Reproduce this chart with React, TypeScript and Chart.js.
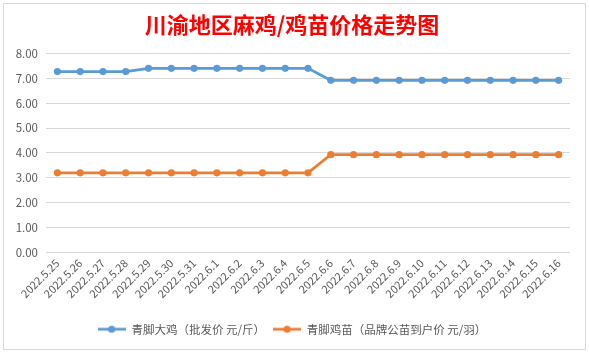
import React, { useEffect, useRef } from "react";
import { Chart, registerables } from "chart.js";

Chart.register(...registerables);

const TITLE = "川渝地区麻鸡/鸡苗价格走势图";
const categories = [
  "2022.5.25", "2022.5.26", "2022.5.27", "2022.5.28", "2022.5.29", "2022.5.30", "2022.5.31",
  "2022.6.1", "2022.6.2", "2022.6.3", "2022.6.4", "2022.6.5", "2022.6.6", "2022.6.7",
  "2022.6.8", "2022.6.9", "2022.6.10", "2022.6.11", "2022.6.12", "2022.6.13", "2022.6.14",
  "2022.6.15", "2022.6.16",
];
const seriesNames = ["青脚大鸡（批发价 元/斤）", "青脚鸡苗（品牌公苗到户价 元/羽）"];
const broilerPrice = [
  7.27, 7.27, 7.27, 7.27, 7.4, 7.4, 7.4, 7.4, 7.4, 7.4, 7.4, 7.4,
  6.92, 6.92, 6.92, 6.92, 6.92, 6.92, 6.92, 6.92, 6.92, 6.92, 6.92,
];
const chickPrice = [
  3.2, 3.2, 3.2, 3.2, 3.2, 3.2, 3.2, 3.2, 3.2, 3.2, 3.2, 3.2,
  3.93, 3.93, 3.93, 3.93, 3.93, 3.93, 3.93, 3.93, 3.93, 3.93, 3.93,
];
const yMin = 0;
const yMax = 8;
const yStep = 1;

const BLUE = "#5B9BD5";
const ORANGE = "#ED7D31";
const TEXT = "#595959";
const FONT = "'Noto Sans CJK SC', 'Noto Sans', sans-serif";

function legendIcon(color: string): HTMLCanvasElement {
  const c = document.createElement("canvas");
  c.width = 28;
  c.height = 10;
  const g = c.getContext("2d")!;
  g.strokeStyle = color;
  g.lineWidth = 2.75;
  g.beginPath();
  g.moveTo(0, 5);
  g.lineTo(28, 5);
  g.stroke();
  g.fillStyle = color;
  g.beginPath();
  g.arc(14, 5, 3.6, 0, Math.PI * 2);
  g.fill();
  return c;
}

const borderPlugin = {
  id: "frame",
  beforeDraw(chart: any) {
    const ctx = chart.ctx;
    ctx.save();
    ctx.fillStyle = "#ffffff";
    ctx.fillRect(0, 0, chart.width, chart.height);
    ctx.strokeStyle = "#d9d9d9";
    ctx.lineWidth = 1;
    ctx.strokeRect(3.5, 3.5, chart.width - 7, chart.height - 6);
    ctx.restore();
  },
};

export default function App() {
  const ref = useRef<HTMLCanvasElement>(null);
  useEffect(() => {
    const icons = [legendIcon(BLUE), legendIcon(ORANGE)];
    const chart = new Chart(ref.current!, {
      type: "line",
      data: {
        labels: categories,
        datasets: [
          {
            label: seriesNames[0],
            data: broilerPrice,
            borderColor: BLUE,
            backgroundColor: BLUE,
            borderWidth: 2.75,
            pointRadius: 3.6,
            pointBorderWidth: 0,
            pointBackgroundColor: BLUE,
            tension: 0,
          },
          {
            label: seriesNames[1],
            data: chickPrice,
            borderColor: ORANGE,
            backgroundColor: ORANGE,
            borderWidth: 2.75,
            pointRadius: 3.6,
            pointBorderWidth: 0,
            pointBackgroundColor: ORANGE,
            tension: 0,
          },
        ],
      },
      options: {
        responsive: false,
        animation: false,
        layout: { padding: { left: 14, right: 19, top: 0, bottom: 7 } },
        plugins: {
          title: {
            display: true,
            text: TITLE,
            color: "#FF0000",
            font: { family: FONT, size: 22, weight: "bold", lineHeight: 1.2 },
            padding: { top: 11, bottom: 16 },
          },
          legend: {
            position: "bottom",
            labels: {
              color: TEXT,
              font: { family: FONT, size: 11.5 },
              usePointStyle: true,
              pointStyleWidth: 28,
              padding: 8,
              generateLabels: (chart: any) => {
                const items = Chart.defaults.plugins.legend.labels.generateLabels(chart);
                return items.map((it: any, i: number) => ({ ...it, pointStyle: icons[i] }));
              },
            },
          },
          tooltip: { enabled: false },
        },
        scales: {
          x: {
            offset: true,
            grid: { display: false, drawTicks: false },
            border: { display: false },
            ticks: {
              color: TEXT,
              font: { family: FONT, size: 11 },
              maxRotation: 45,
              minRotation: 45,
              autoSkip: false,
              padding: 4,
            },
            afterFit: (s: any) => {
              s.height = 63;
            },
          },
          y: {
            min: yMin,
            max: yMax,
            grid: { color: "#d9d9d9", drawTicks: false, lineWidth: 1 },
            border: { display: false },
            ticks: {
              stepSize: yStep,
              color: TEXT,
              font: { family: FONT, size: 11.5 },
              padding: 8,
              callback: (v: any) => Number(v).toFixed(2),
            },
            afterFit: (s: any) => {
              s.width = 32;
            },
          },
        },
      },
      plugins: [borderPlugin],
    } as any);
    return () => chart.destroy();
  }, []);
  return (
    <div style={{ position: "fixed", left: 0, top: 0, width: 589, height: 352, background: "#fff" }}>
      <canvas ref={ref} width={589} height={352} style={{ display: "block" }} />
    </div>
  );
}
